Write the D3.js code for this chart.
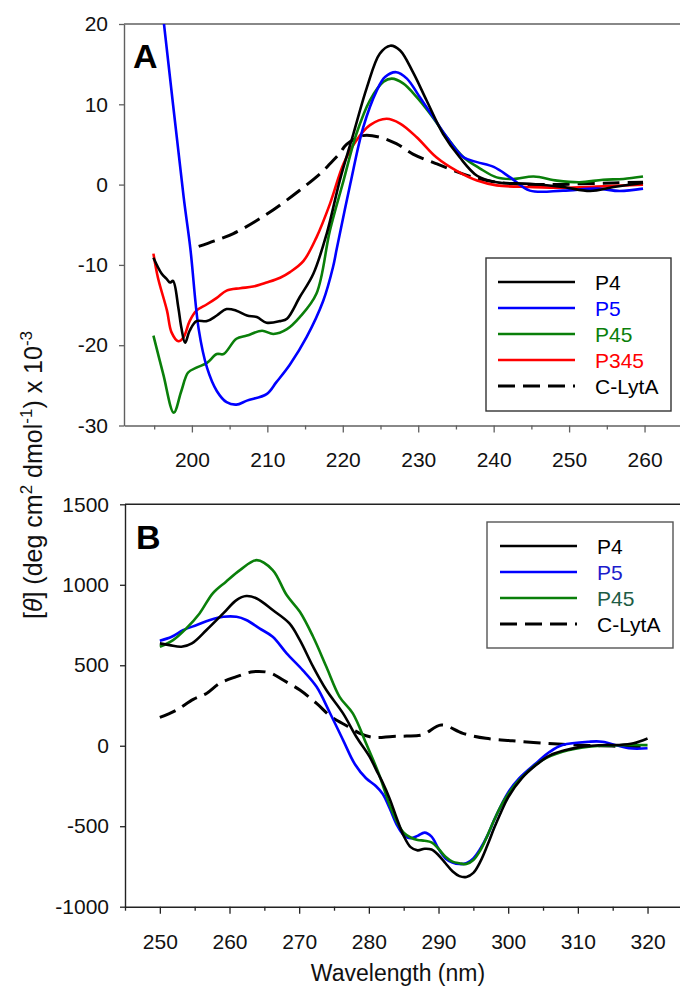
<!DOCTYPE html>
<html><head><meta charset="utf-8">
<script src="https://cdn.jsdelivr.net/npm/d3@7"></script>
<style>body{margin:0;background:#fff}svg{display:block}text{font-family:"Liberation Sans",Arial,sans-serif}</style>
</head><body>
<svg id="chart" width="680" height="992"></svg>
<script>
// ---------- DATA (wavelength nm, value) ----------
// Panel A (far-UV), values x 10^-3
const A_P4 = [[194.9,-9.1],[196.0,-11.1],[196.7,-11.8],[197.1,-12.2],[197.5,-12.0],[198.2,-15.3],[198.6,-17.8],[199.1,-19.7],[199.7,-18.2],[200.6,-17.0],[202.0,-17.0],[203.3,-16.3],[204.6,-15.5],[205.9,-15.7],[207.3,-16.3],[208.6,-16.5],[209.9,-17.2],[211.7,-17.0],[212.6,-16.7],[214.3,-14.0],[216.1,-11.1],[217.9,-6.0],[219.6,0.5],[221.4,6.3],[223.2,12.1],[224.9,16.3],[226.3,17.3],[227.6,16.7],[229.3,14.0],[231.1,10.5],[233.3,6.3],[235.5,3.4],[237.8,1.1],[240.4,0.3],[244.8,0.1],[249.2,-0.3],[252.8,-0.8],[255.9,-0.3],[259.8,0.2]];
const A_P5 = [[195.0,30.5],[196.3,20.0],[198.9,-1.5],[199.8,-8.0],[200.9,-18.0],[202.0,-22.8],[203.3,-25.7],[204.6,-27.1],[205.9,-27.4],[207.3,-26.9],[209.9,-26.1],[211.2,-24.6],[213.0,-22.4],[215.2,-19.0],[217.4,-14.5],[218.7,-10.3],[219.2,-8.0],[221.0,0.1],[222.7,7.1],[224.5,11.7],[225.6,13.4],[227.1,14.0],[228.5,13.2],[230.2,10.9],[232.0,8.4],[233.8,5.9],[236.0,3.4],[237.8,2.8],[240.0,2.2],[242.2,0.9],[244.8,-0.75],[249.2,-0.75],[253.7,-0.5],[256.7,-0.8],[259.8,-0.5]];
const A_P45 = [[194.9,-18.8],[196.2,-23.6],[197.6,-28.4],[198.6,-25.7],[199.5,-23.4],[200.6,-22.8],[202.0,-22.2],[203.3,-21.1],[204.2,-21.1],[205.9,-19.2],[207.3,-18.8],[209.3,-18.2],[210.8,-18.6],[212.6,-18.0],[214.3,-16.5],[216.5,-13.6],[218.3,-5.7],[220.1,0.5],[221.8,6.3],[223.6,10.5],[225.4,12.8],[226.5,13.2],[228.0,12.6],[229.8,10.9],[231.6,8.8],[233.8,5.9],[236.0,3.4],[238.2,2.0],[240.4,0.9],[242.6,0.7],[245.3,1.0],[248.4,0.5],[251.4,0.3],[254.5,0.6],[257.2,0.7],[259.8,1.0]];
const A_P345 = [[194.9,-8.6],[195.5,-11.6],[196.7,-15.7],[197.3,-18.4],[198.2,-19.5],[198.9,-19.0],[199.7,-17.0],[200.6,-15.7],[202.0,-14.9],[203.3,-14.1],[204.6,-13.2],[206.4,-12.9],[208.1,-12.7],[209.9,-12.2],[211.7,-11.6],[213.0,-10.9],[214.8,-9.5],[216.5,-6.6],[218.3,-2.4],[220.1,2.6],[221.8,5.5],[223.6,7.4],[225.8,8.2],[227.6,7.6],[229.8,5.9],[232.4,3.4],[235.1,1.7],[237.8,0.5],[240.4,-0.1],[244.8,-0.3],[249.2,-0.4],[253.7,-0.25],[259.8,0.0]];
const A_CLytA = [[200.9,-7.7],[203.0,-7.0],[205.5,-6.1],[209.9,-3.7],[214.3,-0.7],[217.4,1.7],[218.3,2.6],[219.6,3.9],[220.5,5.0],[222.7,6.1],[224.9,5.9],[227.1,5.1],[229.3,3.8],[232.4,2.6],[236.0,1.3],[239.1,0.5],[242.6,0.1],[247.0,0.0],[251.4,0.1],[255.9,0.2],[259.8,0.3]];

// Panel B (near-UV)
const B_P4 = [[250,636],[251.4,625],[253.1,615],[254.6,636],[256.7,719],[259.1,822],[261.0,905],[262.4,930],[263.9,915],[266.2,843],[268.6,760],[270.1,656],[272.0,491],[273.9,346],[276.3,201],[278.2,56],[280.1,-68],[281.3,-171],[282,-230],[283,-330],[284,-450],[285,-560],[286,-630],[287,-650],[288,-640],[289,-645],[290,-680],[291,-730],[292,-780],[293,-810],[294,-815],[295,-790],[296,-720],[297,-620],[298,-510],[299,-410],[300,-320],[302,-200],[304,-120],[306,-60],[308,-30],[310,-10],[312,0],[314,5],[316,5],[318,15],[320,45]];
const B_P5 = [[250,652],[251.7,677],[253.4,719],[255.3,750],[257.2,781],[259.1,801],[261.0,801],[262.4,781],[264.3,729],[266.2,677],[268.2,574],[270.5,470],[272.5,366],[274.4,205],[276.3,35],[278.0,-115],[279.6,-202],[281,-250],[282,-300],[283,-390],[284,-490],[285,-555],[286,-575],[287,-560],[288,-540],[289,-565],[290,-640],[291,-700],[292,-725],[293,-735],[294,-730],[295,-700],[296,-640],[297,-560],[298,-460],[299,-370],[300,-290],[301.6,-202],[304,-109],[306,-37],[307.8,4],[311.6,25],[313.5,25],[317.3,-16],[320,-16]];
const B_P45 = [[250,615],[251.9,656],[253.8,729],[255.7,822],[257.6,947],[259.5,1019],[261.5,1091],[263.9,1153],[266.2,1091],[268.2,936],[270.1,832],[272.0,677],[273.9,491],[275.8,304],[277.7,201],[279.6,15],[281.4,-171],[283,-370],[284,-470],[285,-540],[286,-570],[287,-585],[288,-590],[289,-600],[290,-640],[291,-690],[292,-720],[293,-730],[294,-735],[295,-710],[296,-650],[297,-560],[298,-460],[299,-370],[300,-300],[301.6,-213],[304.9,-89],[307.8,-37],[311.6,-6],[316.4,4],[320,4]];
const B_CLytA = [[250,176],[252.4,222],[254.8,288],[256.7,325],[258.6,388],[261.0,429],[263.4,460],[265.8,453],[267.7,408],[270.1,346],[272.5,263],[274.6,180],[277.0,120],[278.7,77],[280.6,52],[283.4,58],[285.4,60],[287.7,68],[290.4,129],[293.5,77],[296.8,46],[300.6,31],[305.4,15],[310.1,4],[314.9,-2],[320,-5]];

// Ticks
const A_xTicks = [200,210,220,230,240,250,260];
const A_xMinor = [195,205,215,225,235,245,255];
const A_yTicks = [-30,-20,-10,0,10,20];
const B_xTicks = [250,260,270,280,290,300,310,320];
const B_xMinor = [245,255,265,275,285,295,305,315];
const B_yTicks = [-1000,-500,0,500,1000,1500];

const A_series = [
  {name:"P4", data:A_P4, color:"#000000", text:"#000000", dash:null},
  {name:"P5", data:A_P5, color:"#0000ff", text:"#0000ff", dash:null},
  {name:"P45", data:A_P45, color:"#0a7f0a", text:"#0a7f0a", dash:null},
  {name:"P345", data:A_P345, color:"#ff0000", text:"#ff0000", dash:null},
  {name:"C-LytA", data:A_CLytA, color:"#000000", text:"#000000", dash:"17,8"}
];
const B_series = [
  {name:"P4", data:B_P4, color:"#000000", text:"#000000", dash:null},
  {name:"P5", data:B_P5, color:"#0000ff", text:"#1c1ccc", dash:null},
  {name:"P45", data:B_P45, color:"#0a7f0a", text:"#1d5c45", dash:null},
  {name:"C-LytA", data:B_CLytA, color:"#000000", text:"#000000", dash:"17,8"}
];
// draw order (legend order kept separately)
const A_drawOrder = ["C-LytA","P345","P45","P5","P4"];
const B_drawOrder = ["C-LytA","P5","P45","P4"];

// ---------- DRAW ----------
const svg = d3.select("#chart");
const FONT = 21;
const fmt = d => String(d);

function panel(cfg){
  const g = svg.append("g");
  const x = d3.scaleLinear().domain(cfg.xDomain).range(cfg.xRange);
  const y = d3.scaleLinear().domain(cfg.yDomain).range(cfg.yRange);
  const id = "clip"+cfg.label;
  svg.append("defs").append("clipPath").attr("id",id).append("rect")
    .attr("x",cfg.xRange[0]).attr("y",cfg.yRange[1])
    .attr("width",cfg.xRange[1]-cfg.xRange[0]).attr("height",cfg.yRange[0]-cfg.yRange[1]);

  // top border
  g.append("line").attr("x1",cfg.xRange[0]).attr("x2",cfg.xRange[1])
    .attr("y1",cfg.yRange[1]).attr("y2",cfg.yRange[1])
    .attr("stroke",cfg.axisColor).attr("stroke-width",1.4);

  // axes
  g.append("g").attr("transform",`translate(0,${cfg.yRange[0]})`)
    .call(d3.axisBottom(x).tickValues(cfg.xTicks).tickSize(7).tickSizeOuter(0).tickPadding(20).tickFormat(fmt));
  g.append("g").attr("transform",`translate(0,${cfg.yRange[0]})`)
    .call(d3.axisBottom(x).tickValues(cfg.xMinor).tickSize(4).tickSizeOuter(0).tickFormat(""))
    .select(".domain").remove();
  g.append("g").attr("transform",`translate(${cfg.xRange[0]},0)`)
    .call(d3.axisLeft(y).tickValues(cfg.yTicks).tickSize(5).tickSizeOuter(0).tickPadding(11).tickFormat(fmt));
  g.selectAll(".domain").attr("stroke",cfg.axisColor).attr("stroke-width",1.4);
  g.selectAll(".tick line").attr("stroke",cfg.axisColor).attr("stroke-width",1.3);
  g.selectAll(".tick text").attr("font-size",FONT).attr("fill","#111")
    .style("font-family",'"Liberation Sans",Arial,sans-serif');

  // curves
  const line = d3.line().x(d=>x(d[0])).y(d=>y(d[1])).curve(d3.curveCatmullRom.alpha(0.5));
  const cg = g.append("g").attr("clip-path",`url(#${id})`);
  cfg.drawOrder.forEach(n=>{
    const s = cfg.series.find(t=>t.name===n);
    cg.append("path").datum(s.data).attr("d",line).attr("fill","none")
      .attr("stroke",s.color).attr("stroke-width",s.dash?3:2.6)
      .attr("stroke-dasharray",s.dash).attr("stroke-linejoin","round");
  });

  // panel label
  g.append("text").attr("x",cfg.letterPos[0]).attr("y",cfg.letterPos[1])
    .attr("font-size",34).attr("font-weight","bold").text(cfg.label);

  // legend
  const L = cfg.legend;
  g.append("rect").attr("x",L.x).attr("y",L.y).attr("width",L.w).attr("height",L.h)
    .attr("fill","#fff").attr("stroke",L.stroke).attr("stroke-width",1.4);
  cfg.series.forEach((s,i)=>{
    const yy = L.y0 + i*L.dy;
    g.append("line").attr("x1",L.lx1).attr("x2",L.lx2).attr("y1",yy).attr("y2",yy)
      .attr("stroke",s.color).attr("stroke-width",s.dash?3:2.6).attr("stroke-dasharray",s.dash);
    g.append("text").attr("x",L.tx).attr("y",yy).attr("dy","0.36em")
      .attr("font-size",FONT).attr("fill",s.text).text(s.name);
  });
}

panel({label:"A", xDomain:[191,264.7], xRange:[124,680], yDomain:[-30,20], yRange:[425.5,24],
  xTicks:A_xTicks, xMinor:A_xMinor, yTicks:A_yTicks, axisColor:"#606060",
  series:A_series, drawOrder:A_drawOrder, letterPos:[133,68],
  legend:{x:486,y:258,w:185,h:153,stroke:"#333",y0:282,dy:26,lx1:498,lx2:575,tx:595}});

panel({label:"B", xDomain:[245,324.66], xRange:[125,680], yDomain:[-1000,1500], yRange:[906.7,504.3],
  xTicks:B_xTicks, xMinor:B_xMinor, yTicks:B_yTicks, axisColor:"#222",
  series:B_series, drawOrder:B_drawOrder, letterPos:[136,549],
  legend:{x:487,y:522,w:186,h:126,stroke:"#555",y0:546,dy:26,lx1:500,lx2:577,tx:597}});

// axis titles
svg.append("text").attr("x",398).attr("y",981).attr("text-anchor","middle")
  .attr("font-size",23).attr("fill","#111").text("Wavelength (nm)");

const yl = svg.append("text").attr("transform","translate(42,475) rotate(-90)")
  .attr("text-anchor","middle").attr("font-size",25).attr("fill","#111");
yl.append("tspan").text("[");
yl.append("tspan").attr("font-style","italic").text("θ");
yl.append("tspan").text("] (deg cm");
yl.append("tspan").attr("font-size",17).attr("dy",-10).text("2");
yl.append("tspan").attr("dy",10).text(" dmol");
yl.append("tspan").attr("font-size",17).attr("dy",-10).text("-1");
yl.append("tspan").attr("dy",10).text(") x 10");
yl.append("tspan").attr("font-size",17).attr("dy",-10).text("-3");
</script>
</body></html>
